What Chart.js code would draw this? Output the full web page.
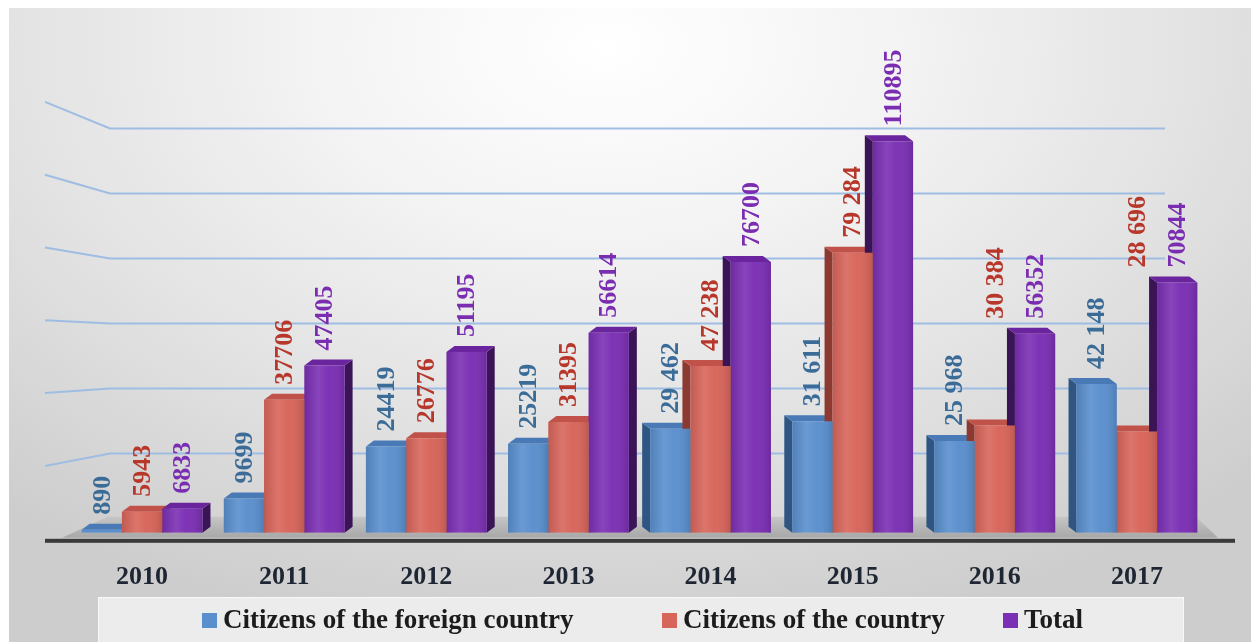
<!DOCTYPE html>
<html><head><meta charset="utf-8">
<script src="https://cdn.jsdelivr.net/npm/chart.js@4.4.1/dist/chart.umd.min.js"></script>
<style>
html,body{margin:0;padding:0;background:#fff;overflow:hidden;}
#wrap{position:absolute;left:0;top:0;width:1251px;height:642px;}
#panel{position:absolute;left:9px;top:8px;width:1242px;height:634px;
background:radial-gradient(ellipse 75% 95% at 48% 6%, #ffffff 0%, #f4f4f4 30%, #e2e2e2 65%, #cdcdcd 100%);}
canvas{position:absolute;left:0;top:0;}
</style></head><body>
<div id="wrap"><div id="panel"></div><canvas id="c" width="1251" height="642"></canvas></div>
<script>
// ---- data ----
const categories = ['2010','2011','2012','2013','2014','2015','2016','2017'];
const foreignCitizens = [890, 9699, 24419, 25219, 29462, 31611, 25968, 42148];
const countryCitizens = [5943, 37706, 26776, 31395, 47238, 79284, 30384, 28696];
const totals = [6833, 47405, 51195, 56614, 76700, 110895, 56352, 70844];
const foreignLabels = ['890','9699','24419','25219','29 462','31 611','25 968','42 148'];
const countryLabels = ['5943','37706','26776','31395','47 238','79 284','30 384','28 696'];
const totalLabels = ['6833','47405','51195','56614','76700','110895','56352','70844'];
const seriesNames = ['Citizens of the foreign country','Citizens of the country','Total'];

const SERIF = '"Liberation Serif", "Times New Roman", serif';
const faceColors = ['#5a8fce', '#d8655a', '#7b2fb4'];
const sideColors = ['#2f5682', '#8c3a31', '#3b1458'];
const topColors  = ['#4a7ab6', '#c0524a', '#6a259e'];
const labelColors = ['#3b6c98', '#b8372b', '#7b2db2'];

const decoPlugin = {
  id: 'deco',
  beforeDatasetsDraw(chart, args, opts) {
    const ctx = chart.ctx;
    const y = chart.scales.y;
    const ca = chart.chartArea;
    ctx.save();
    // back-wall grid lines (perspective: wall sits behind the bars)
    ctx.strokeStyle = '#9fbde2';
    ctx.lineWidth = 2;
    for (let v = opts.gridStep; v <= y.max; v += opts.gridStep) {
      const front = y.getPixelForValue(v);
      const py = Math.round(ca.bottom - 15 - (ca.bottom - front) * 0.92) + 0.5;
      const ly = py + (py - 350) * 0.12;
      ctx.beginPath();
      ctx.moveTo(45, ly);
      ctx.lineTo(110, py);
      ctx.lineTo(1165, py);
      ctx.stroke();
    }
    // floor
    const b = ca.bottom;
    const g = ctx.createLinearGradient(0, b - 18, 0, b + 4);
    g.addColorStop(0, '#c9c9c9');
    g.addColorStop(1, '#a9a9a9');
    ctx.fillStyle = g;
    ctx.beginPath();
    ctx.moveTo(62, b + 5);
    ctx.lineTo(1218, b + 5);
    ctx.lineTo(1196, b - 16);
    ctx.lineTo(108, b - 16);
    ctx.closePath();
    ctx.fill();
    // 3D extrusions (drawn behind front faces)
    const mid = (ca.left + ca.right) / 2;
    chart.data.datasets.forEach((ds, d) => {
      const meta = chart.getDatasetMeta(d);
      meta.data.forEach((bar) => {
        const p = bar.getProps(['x', 'y', 'base', 'width'], true);
        const x0 = p.x - p.width / 2, x1 = p.x + p.width / 2;
        const dx = p.x < mid ? 8 : -8, dy = -6;
        const top = p.y, base = p.base;
        ctx.fillStyle = sideColors[d];
        ctx.beginPath();
        const sx = dx > 0 ? x1 : x0;
        ctx.moveTo(sx, top);
        ctx.lineTo(sx + dx, top + dy);
        ctx.lineTo(sx + dx, base + dy);
        ctx.lineTo(sx, base);
        ctx.closePath();
        ctx.fill();
        ctx.fillStyle = topColors[d];
        ctx.beginPath();
        ctx.moveTo(x0, top);
        ctx.lineTo(x1, top);
        ctx.lineTo(x1 + dx, top + dy);
        ctx.lineTo(x0 + dx, top + dy);
        ctx.closePath();
        ctx.fill();
      });
    });
    ctx.restore();
  },
  afterDatasetsDraw(chart, args, opts) {
    const ctx = chart.ctx;
    const ca = chart.chartArea;
    ctx.save();
    // subtle shading on front faces
    chart.data.datasets.forEach((ds, d) => {
      chart.getDatasetMeta(d).data.forEach((bar) => {
        const p = bar.getProps(['x', 'y', 'base', 'width'], true);
        const h = p.base - p.y;
        if (h < 4) return;
        const g = ctx.createLinearGradient(p.x - p.width / 2, 0, p.x + p.width / 2, 0);
        g.addColorStop(0, 'rgba(0,0,0,0.10)');
        g.addColorStop(0.35, 'rgba(255,255,255,0.10)');
        g.addColorStop(0.6, 'rgba(255,255,255,0.02)');
        g.addColorStop(1, 'rgba(0,0,0,0.12)');
        ctx.fillStyle = g;
        ctx.fillRect(p.x - p.width / 2, p.y, p.width, h);
      });
    });
    // baseline
    ctx.fillStyle = '#3a3a3a';
    ctx.fillRect(45, ca.bottom + 6, 1190, 4);
    // rotated value labels
    const labelSets = [foreignLabels, countryLabels, totalLabels];
    ctx.font = 'bold 26px ' + SERIF;
    ctx.textAlign = 'left';
    ctx.textBaseline = 'middle';
    chart.data.datasets.forEach((ds, d) => {
      const meta = chart.getDatasetMeta(d);
      meta.data.forEach((bar, i) => {
        const p = bar.getProps(['x', 'y'], true);
        let yTop = p.y;
        const anchor = opts.anchorTo[d] && opts.anchorTo[d][i];
        if (anchor !== undefined) {
          yTop = Math.min(yTop, chart.getDatasetMeta(anchor).data[i].getProps(['y'], true).y);
        }
        ctx.save();
        ctx.translate(p.x + 1, yTop - 15);
        ctx.rotate(-Math.PI / 2);
        ctx.fillStyle = labelColors[d];
        ctx.fillText(labelSets[d][i], 0, 0);
        ctx.restore();
      });
    });
    ctx.restore();
  },
  afterDraw(chart, args, opts) {
    const ctx = chart.ctx;
    ctx.save();
    // legend panel
    ctx.fillStyle = '#ececec';
    ctx.fillRect(98, 597, 1086, 45);
    ctx.strokeStyle = 'rgba(255,255,255,0.7)';
    ctx.lineWidth = 1;
    ctx.strokeRect(98.5, 597.5, 1085, 45);
    ctx.font = 'bold 27px ' + SERIF;
    ctx.textBaseline = 'middle';
    ctx.textAlign = 'left';
    chart.data.datasets.forEach((ds, d) => {
      const x = opts.legendX[d];
      ctx.fillStyle = faceColors[d];
      ctx.fillRect(x, 613, 15, 15);
      ctx.fillStyle = '#1c1c1c';
      ctx.fillText(ds.label, x + 21, 621);
    });
    ctx.restore();
  }
};

new Chart(document.getElementById('c'), {
  type: 'bar',
  data: {
    labels: categories,
    datasets: [
      { label: seriesNames[0], data: foreignCitizens, backgroundColor: faceColors[0] },
      { label: seriesNames[1], data: countryCitizens, backgroundColor: faceColors[1] },
      { label: seriesNames[2], data: totals, backgroundColor: faceColors[2] }
    ]
  },
  options: {
    responsive: false,
    animation: false,
    layout: { padding: { left: 71, right: 43, top: 109, bottom: 28 } },
    datasets: { bar: { categoryPercentage: 0.85, barPercentage: 1.0, borderWidth: 0 } },
    scales: {
      x: {
        grid: { display: false },
        border: { display: false },
        ticks: { color: '#1e2633', padding: 21, font: { family: SERIF, size: 26, weight: 'bold', lineHeight: 1.2 } }
      },
      y: { display: false, min: 0, max: 120000 }
    },
    plugins: {
      legend: { display: false },
      tooltip: { enabled: false },
      deco: { gridStep: 20000, anchorTo: { 1: { 6: 2, 7: 2 } }, legendX: [202, 662, 1003] }
    }
  },
  plugins: [decoPlugin]
});
</script>
</body></html>
